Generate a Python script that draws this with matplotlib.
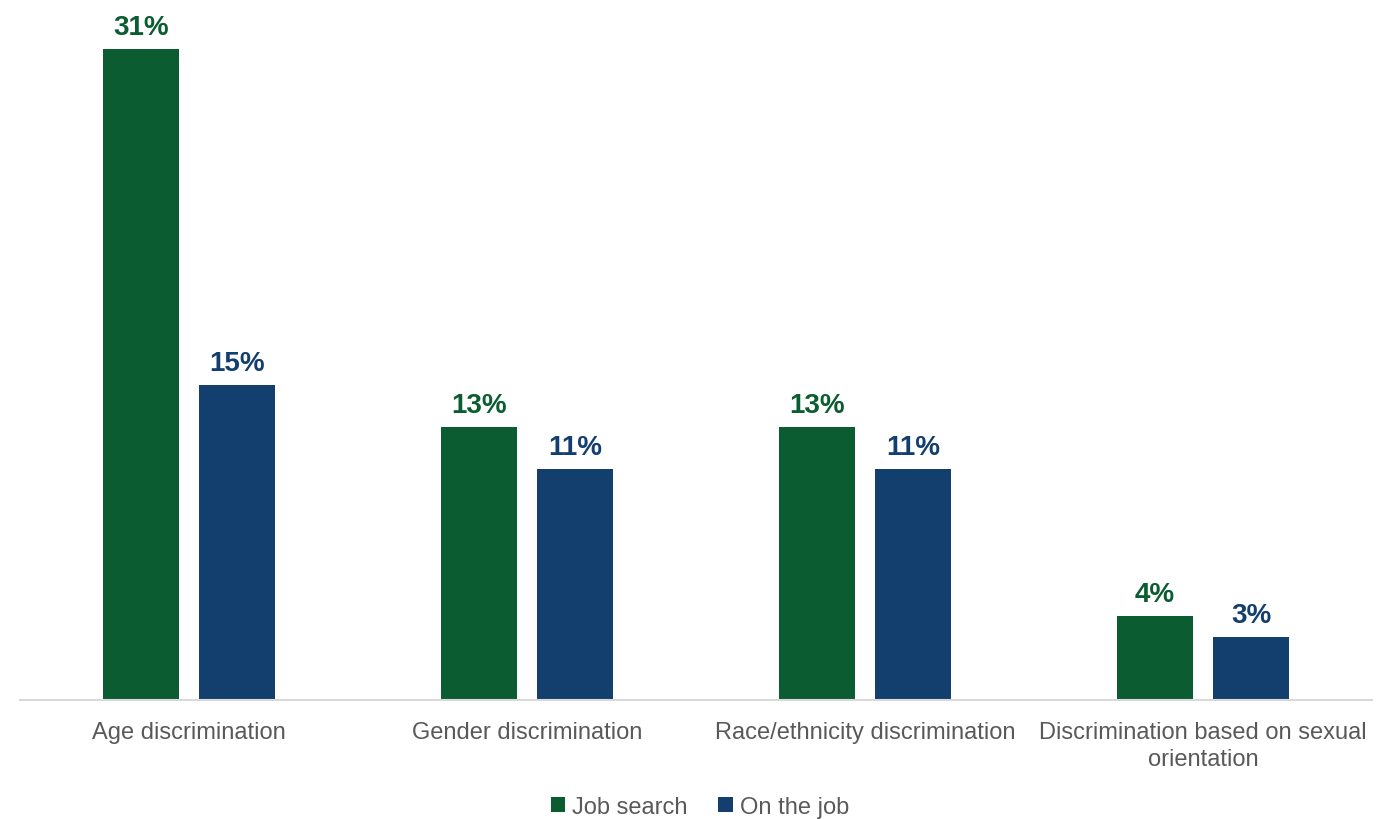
import matplotlib.pyplot as plt
import numpy as np

plt.rcParams['font.family'] = ['Liberation Sans', 'DejaVu Sans']

categories = ['Age discrimination', 'Gender discrimination',
              'Race/ethnicity discrimination',
              'Discrimination based on sexual\norientation']
job_search = [31, 13, 13, 4]
on_the_job = [15, 11, 11, 3]
series_names = ['Job search', 'On the job']

green = '#0b5c30'
blue = '#133f6f'

fig = plt.figure(figsize=(13.89, 8.2), dpi=100)
ax = fig.add_axes([20 / 1389, 119 / 820, 1352 / 1389, 672 / 820])

x = np.arange(len(categories))
width = 0.222
offset = 0.142

bars1 = ax.bar(x - offset, job_search, width, color=green, label=series_names[0])
bars2 = ax.bar(x + offset, on_the_job, width, color=blue, label=series_names[1])

for bars, vals, col in [(bars1, job_search, green), (bars2, on_the_job, blue)]:
    for b, v in zip(bars, vals):
        ax.annotate(f'{v}%', (b.get_x() + b.get_width() / 2, v),
                    xytext=(0, 11), textcoords='offset points',
                    ha='center', va='baseline', fontsize=20, fontweight='bold',
                    color=col)

ax.set_xlim(-0.5, len(categories) - 0.5)
ax.set_ylim(0, 32)
ax.set_yticks([])
ax.set_xticks(x)
ax.set_xticklabels(categories, fontsize=17, color='#595959', linespacing=1.3)
ax.tick_params(axis='x', length=0, pad=15)
for side in ['top', 'left', 'right']:
    ax.spines[side].set_visible(False)
ax.spines['bottom'].set_color('#d9d9d9')
ax.spines['bottom'].set_linewidth(1.5)

fig.legend(handles=[bars1, bars2], labels=series_names, loc='center',
           bbox_to_anchor=(700 / 1389, 1 - 808 / 820), ncol=2, frameon=False,
           fontsize=17, labelcolor='#595959', handlelength=0.6, handleheight=0.6,
           handletextpad=0.3, columnspacing=1.3)

fig.savefig('out.png', dpi=100)
